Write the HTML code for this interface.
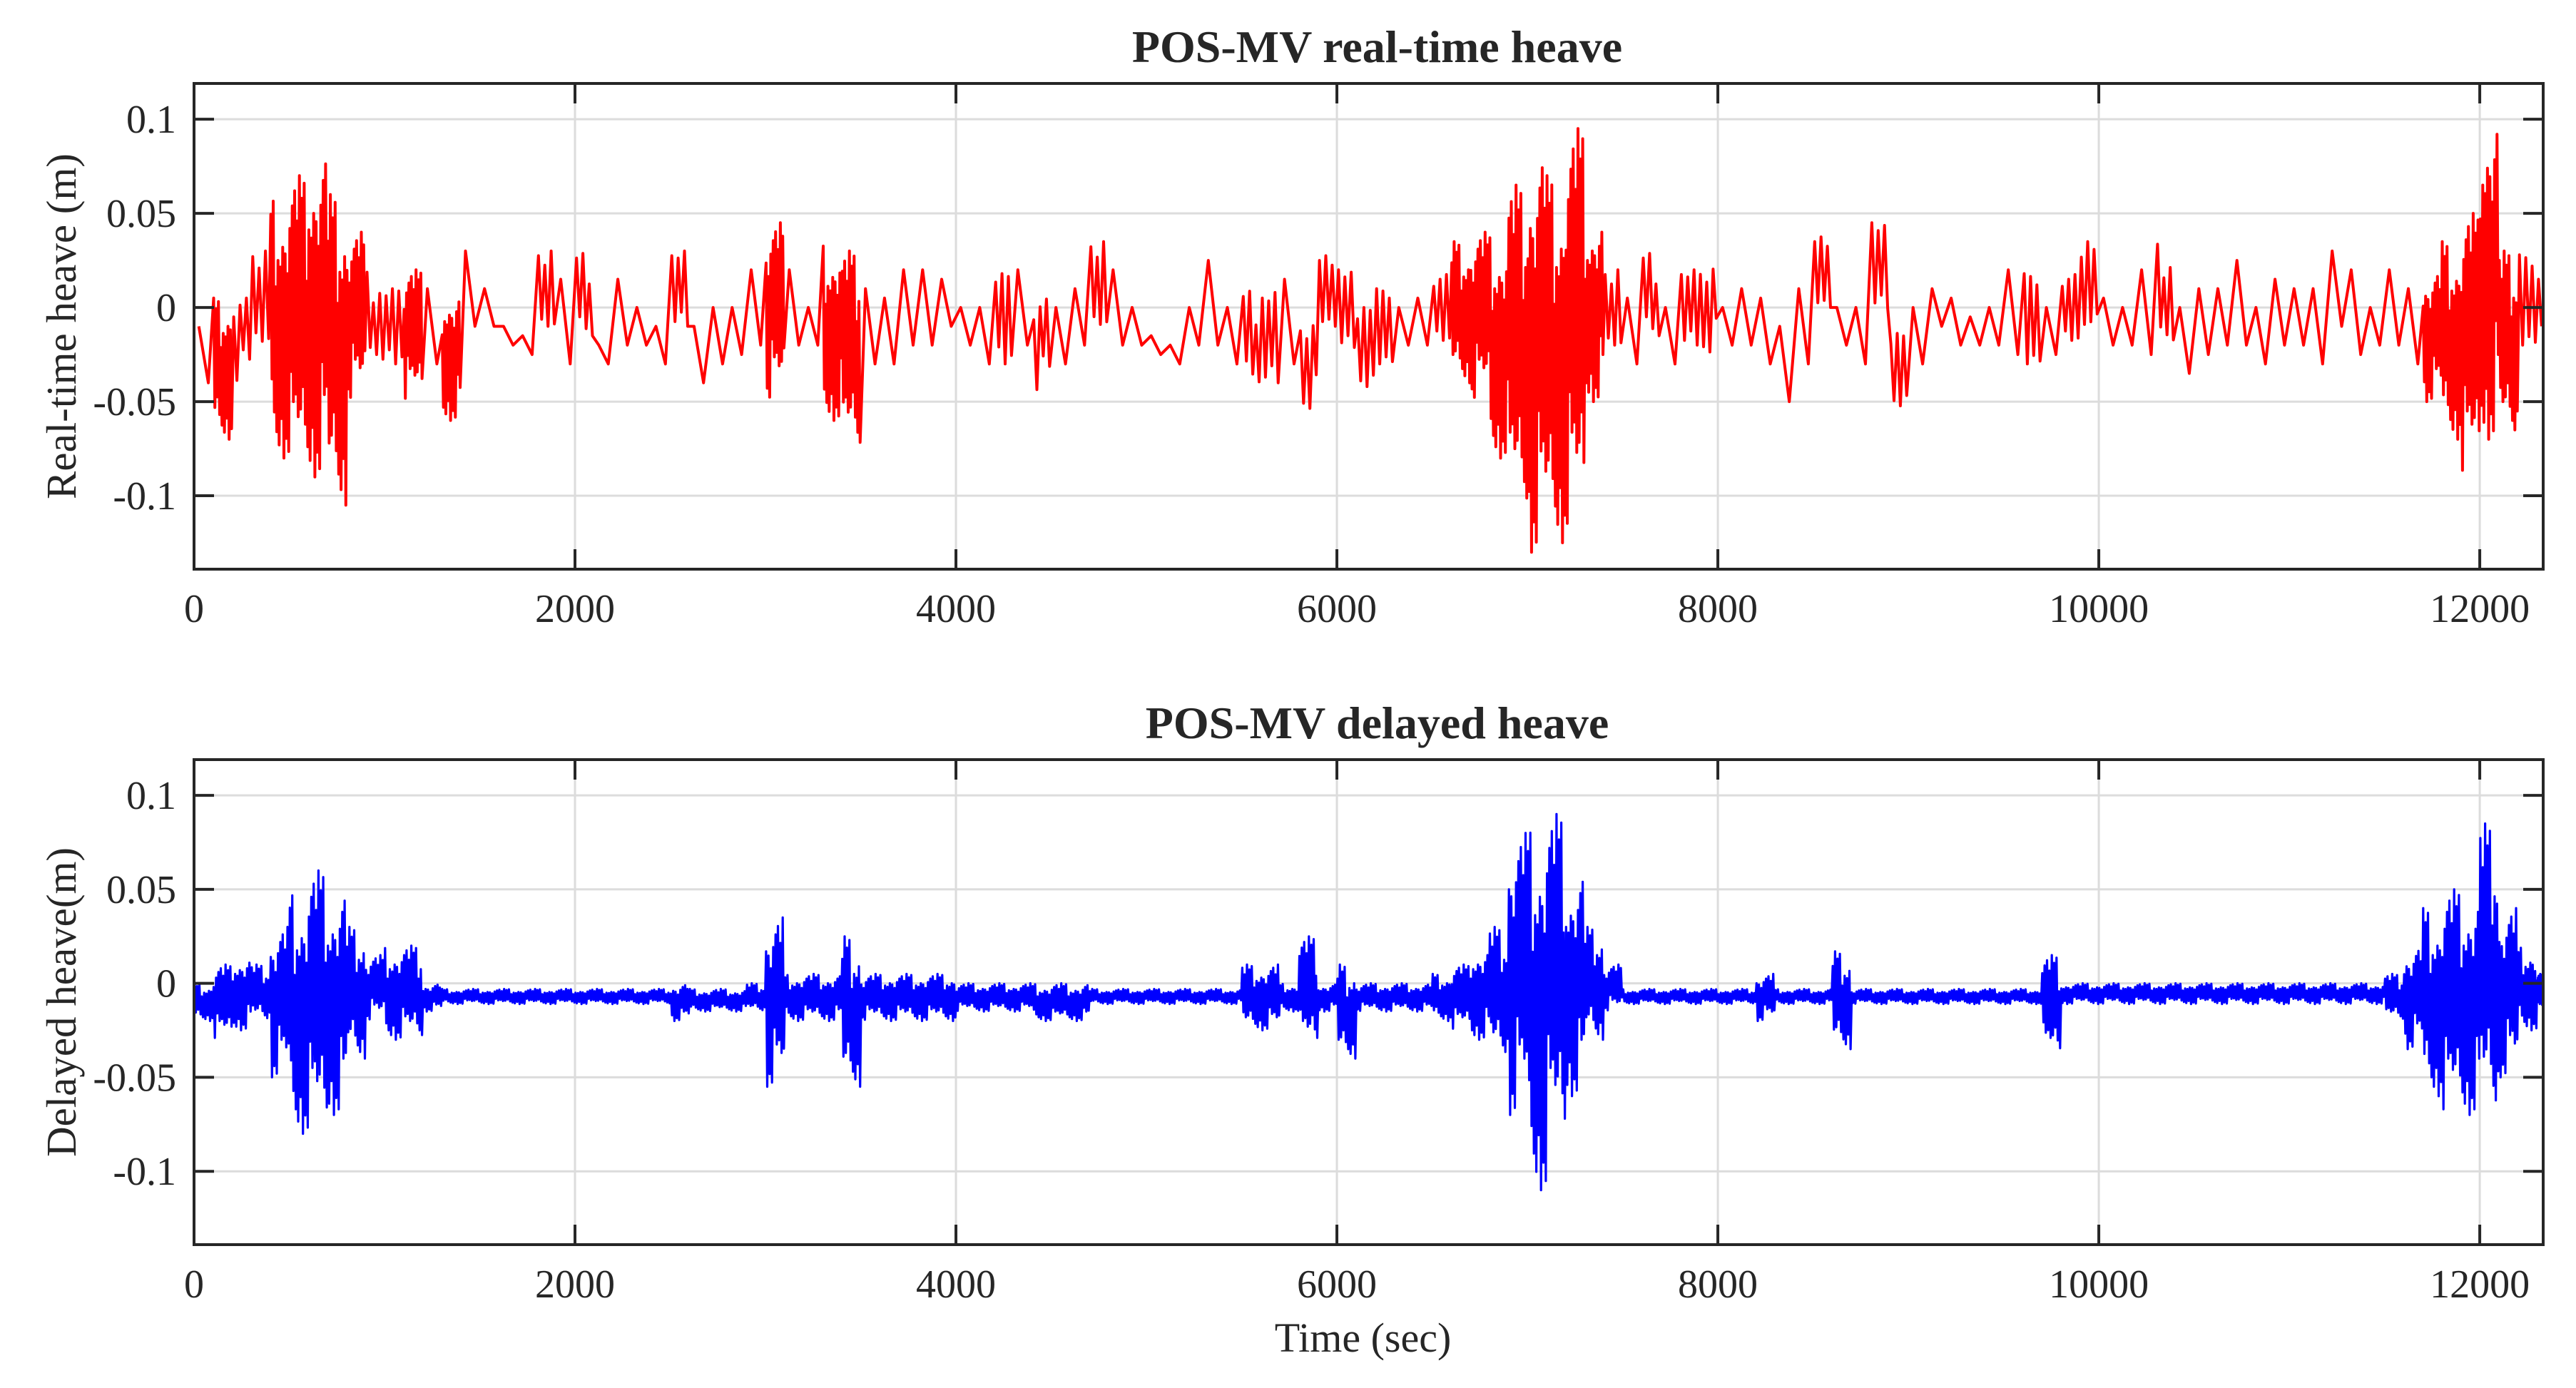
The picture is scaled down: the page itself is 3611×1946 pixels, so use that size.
<!DOCTYPE html>
<html>
<head>
<meta charset="utf-8">
<style>
  html,body{margin:0;padding:0;background:#fff;}
  svg{display:block;}
  text{font-family:"Liberation Serif","DejaVu Serif",serif;fill:#262626;}
</style>
</head>
<body>
<svg id="chart" width="3611" height="1946" viewBox="0 0 3611 1946" xmlns="http://www.w3.org/2000/svg">
  <rect x="0" y="0" width="3611" height="1946" fill="#fff"/>
  <g id="p1"></g>
  <g id="p2"></g>
</svg>
<script>
// ---- data (bins of 100 s; envelope hi/lo in metres) ----
const binSize = 100;
const xTicks = [0, 2000, 4000, 6000, 8000, 10000, 12000];
const yTicks = [0.1, 0.05, 0, -0.05, -0.1];
const yTickLabels = ["0.1", "0.05", "0", "-0.05", "-0.1"];
const xTickLabels = ["0", "2000", "4000", "6000", "8000", "10000", "12000"];

const realHi = [-0.01,0.005,0.01,0.03,0.06,0.07,0.085,0.06,0.04,0.02,
  0.02,0.02,0.01,0.01,0.03,0.01,-0.01,-0.015,0.03,0.015,
  0.03,-0.02,0.015,0.0,-0.01,0.04,-0.01,0.0,0.0,0.02,
  0.045,0.02,0.0,0.035,0.03,0.01,0.005,0.02,0.02,0.015,
  0.0,0.0,0.03,0.02,0.01,0.0,0.01,0.035,0.02,0.0,
  -0.015,-0.02,0.0,0.025,0.0,0.01,0.02,0.015,0.0,0.03,
  0.02,0.015,0.02,0.0,0.005,0.02,0.035,0.04,0.04,0.065,
  0.085,0.07,0.095,0.05,0.02,0.005,0.03,0.0,0.03,0.03,
  0.0,0.01,0.005,-0.01,0.01,0.04,0.0,0.0,0.045,0.0,
  0.0,0.01,0.005,-0.005,0.0,0.02,0.03,0.0,0.02,0.035,
  0.005,0.0,0.02,0.035,0.0,0.01,0.01,0.025,0.0,0.015,
  0.01,0.01,0.03,0.02,0.0,0.02,0.01,0.02,0.035,0.05,
  0.11,0.03,0.04,0.015];
const realLo = [-0.04,-0.07,-0.04,-0.03,-0.08,-0.09,-0.09,-0.105,-0.05,-0.03,
  -0.03,-0.05,-0.03,-0.06,-0.01,-0.01,-0.02,-0.025,-0.02,-0.03,
  -0.02,-0.03,-0.02,-0.02,-0.03,-0.01,-0.04,-0.03,-0.025,-0.02,
  -0.05,-0.02,-0.02,-0.06,-0.077,-0.03,-0.03,-0.02,-0.02,-0.01,
  -0.02,-0.03,-0.03,-0.02,-0.045,-0.03,-0.02,-0.02,-0.02,-0.02,
  -0.025,-0.03,-0.02,-0.02,-0.03,-0.045,-0.04,-0.03,-0.055,-0.02,
  -0.03,-0.045,-0.03,-0.02,-0.02,-0.03,-0.04,-0.05,-0.08,-0.11,
  -0.13,-0.125,-0.12,-0.05,-0.03,-0.03,-0.02,-0.03,-0.02,-0.025,
  -0.02,-0.02,-0.03,-0.05,-0.03,-0.01,-0.02,-0.03,-0.01,-0.055,
  -0.03,-0.01,-0.02,-0.02,-0.02,-0.025,-0.03,-0.025,-0.03,-0.02,
  -0.02,-0.02,-0.025,-0.02,-0.035,-0.025,-0.02,-0.02,-0.03,-0.02,
  -0.02,-0.03,-0.01,-0.025,-0.02,-0.02,-0.03,-0.05,-0.07,-0.09,
  -0.07,-0.07,-0.02,-0.01];

const delHi = [0.0,0.01,0.015,0.01,0.03,0.05,0.06,0.05,0.03,0.015,
  0.02,0.02,0.0,-0.003,-0.003,-0.003,-0.003,-0.003,-0.003,-0.003,
  -0.003,-0.003,-0.003,-0.003,-0.003,0.0,-0.003,-0.003,-0.003,0.0,
  0.035,0.005,0.005,0.005,0.025,0.005,0.005,0.005,0.005,0.005,
  0.0,0.0,0.0,0.0,0.0,0.0,0.0,-0.003,-0.003,-0.003,
  -0.003,-0.003,-0.003,-0.003,-0.003,0.01,0.01,0.0,0.025,0.0,
  0.01,0.0,0.0,0.0,0.0,0.005,0.01,0.02,0.03,0.08,
  0.085,0.09,0.06,0.03,0.01,-0.003,-0.003,-0.003,-0.003,-0.003,
  -0.003,-0.003,0.005,-0.003,-0.003,-0.003,0.017,-0.003,-0.003,-0.003,
  -0.003,-0.003,-0.003,-0.003,-0.003,-0.003,-0.003,0.015,0.0,0.0,
  0.0,0.0,0.0,0.0,0.0,0.0,0.0,0.0,0.0,0.0,
  0.0,0.0,0.0,0.0,0.0,0.005,0.02,0.04,0.05,0.05,
  0.085,0.04,0.02,0.005];
const delLo = [-0.02,-0.03,-0.025,-0.02,-0.05,-0.08,-0.08,-0.07,-0.04,-0.02,
  -0.03,-0.03,-0.015,-0.011,-0.011,-0.011,-0.011,-0.011,-0.011,-0.011,
  -0.011,-0.011,-0.011,-0.011,-0.011,-0.02,-0.015,-0.015,-0.015,-0.015,
  -0.055,-0.02,-0.02,-0.02,-0.055,-0.02,-0.02,-0.02,-0.02,-0.02,
  -0.015,-0.015,-0.015,-0.015,-0.02,-0.02,-0.02,-0.011,-0.011,-0.011,
  -0.011,-0.011,-0.011,-0.011,-0.011,-0.025,-0.025,-0.015,-0.035,-0.015,
  -0.04,-0.015,-0.015,-0.015,-0.015,-0.02,-0.025,-0.03,-0.04,-0.07,
  -0.11,-0.09,-0.06,-0.03,-0.015,-0.011,-0.011,-0.011,-0.011,-0.011,
  -0.011,-0.011,-0.02,-0.011,-0.011,-0.011,-0.035,-0.011,-0.011,-0.011,
  -0.011,-0.011,-0.011,-0.011,-0.011,-0.011,-0.011,-0.04,-0.011,-0.011,
  -0.011,-0.011,-0.011,-0.011,-0.011,-0.011,-0.011,-0.011,-0.011,-0.011,
  -0.011,-0.011,-0.011,-0.011,-0.011,-0.02,-0.035,-0.06,-0.07,-0.07,
  -0.07,-0.05,-0.025,-0.015];

// ---- layout ----
const NS = "http://www.w3.org/2000/svg";
const X0 = 272, X1 = 3565, XMAX = 12333;
const YMAX = 0.119, YMIN = -0.139;
// drawing texture: how far each zig-zag vertex reaches toward the envelope
const reach = [1, 0.55, 0.85, 0.4, 0.95, 0.65, 0.3, 0.8, 0.5, 0.9, 0.45, 0.7, 0.6];
function xs(t){ return X0 + (t / XMAX) * (X1 - X0); }
function mk(tag, attrs, parent){
  const e = document.createElementNS(NS, tag);
  for (const k in attrs) e.setAttribute(k, attrs[k]);
  parent.appendChild(e);
  return e;
}

function panel(g, top, bottom, title, ylabel, hi, lo, color, ptsPerBin, sw, showXTitle){
  const ys = v => top + (YMAX - v) / (YMAX - YMIN) * (bottom - top);
  for (const t of xTicks){
    const l = mk("line", {x1:xs(t), x2:xs(t), y1:top, y2:bottom, stroke:"#dcdcdc", "stroke-width":3}, g);
    
    
  }
  for (const v of yTicks){
    const l = mk("line", {x1:X0, x2:X1, y1:ys(v), y2:ys(v), stroke:"#dcdcdc", "stroke-width":3}, g);
    
    
  }
  const pts = [];
  let c = 0;
  for (let i = 0; i < hi.length; i++){
    const t0 = i * binSize;
    const w = Math.min(binSize, XMAX - t0);
    let n = ptsPerBin;
    if (ptsPerBin === 2 && hi[i] - lo[i] > 0.06) n = 16;
    else if (ptsPerBin === 2 && hi[i] - lo[i] > 0.045) n = 6;
    const mid = (hi[i] + lo[i]) / 2;
    for (let k = 0; k < n; k++){
      const t = t0 + w * (k + 0.5) / n;
      const edge = (k % 2 === 0) ? hi[i] : lo[i];
      const f = (n <= 2) ? 1 : reach[(c++) % reach.length];
      const v = mid + (edge - mid) * f;
      pts.push(xs(t).toFixed(1) + "," + ys(v).toFixed(1));
    }
  }
  const pl = mk("polyline", {points: pts.join(" "), fill:"none", stroke:color, "stroke-width":sw, "stroke-linejoin":"round"}, g);
  
  
  const box = mk("rect", {x:X0, y:top, width:X1-X0, height:bottom-top, fill:"none", stroke:"#262626", "stroke-width":4}, g);
  
  
  xTicks.forEach((t, i) => {
    mk("line", {x1:xs(t), x2:xs(t), y1:bottom, y2:bottom-28, stroke:"#262626", "stroke-width":4}, g);
    mk("line", {x1:xs(t), x2:xs(t), y1:top, y2:top+28, stroke:"#262626", "stroke-width":4}, g);
    const tx = mk("text", {x:xs(t), y:bottom+74, "font-size":56, "text-anchor":"middle"}, g);
    tx.textContent = xTickLabels[i];
    
    
  });
  yTicks.forEach((v, i) => {
    mk("line", {x1:X0, x2:X0+28, y1:ys(v), y2:ys(v), stroke:"#262626", "stroke-width":4}, g);
    mk("line", {x1:X1, x2:X1-28, y1:ys(v), y2:ys(v), stroke:"#262626", "stroke-width":4}, g);
    const tx = mk("text", {x:X0-25, y:ys(v)+19, "font-size":56, "text-anchor":"end"}, g);
    tx.textContent = yTickLabels[i];
    
    
  });
  const tt = mk("text", {x:(X0+X1)/2+12, y:top-30, "font-size":64, "font-weight":"bold", "text-anchor":"middle"}, g);
  tt.textContent = title;
  
  
  const cy = (top + bottom) / 2;
  const yl = mk("text", {x:0, y:0, "font-size":59, "text-anchor":"middle", transform:`translate(106,${cy}) rotate(-90)`}, g);
  yl.textContent = ylabel;
  
  
  if (showXTitle){
    const xl = mk("text", {x:(X0+X1)/2 - 8, y:bottom+150, "font-size":58, "text-anchor":"middle"}, g);
    xl.textContent = "Time (sec)";
    
    
  }
}

panel(document.getElementById("p1"), 117, 798, "POS-MV real-time heave", "Real-time heave (m)", realHi, realLo, "#ff0000", 2, 4, false);
panel(document.getElementById("p2"), 1065, 1745, "POS-MV delayed heave", "Delayed heave(m)", delHi, delLo, "#0000ff", 16, 3.2, true);
</script>
</body>
</html>
